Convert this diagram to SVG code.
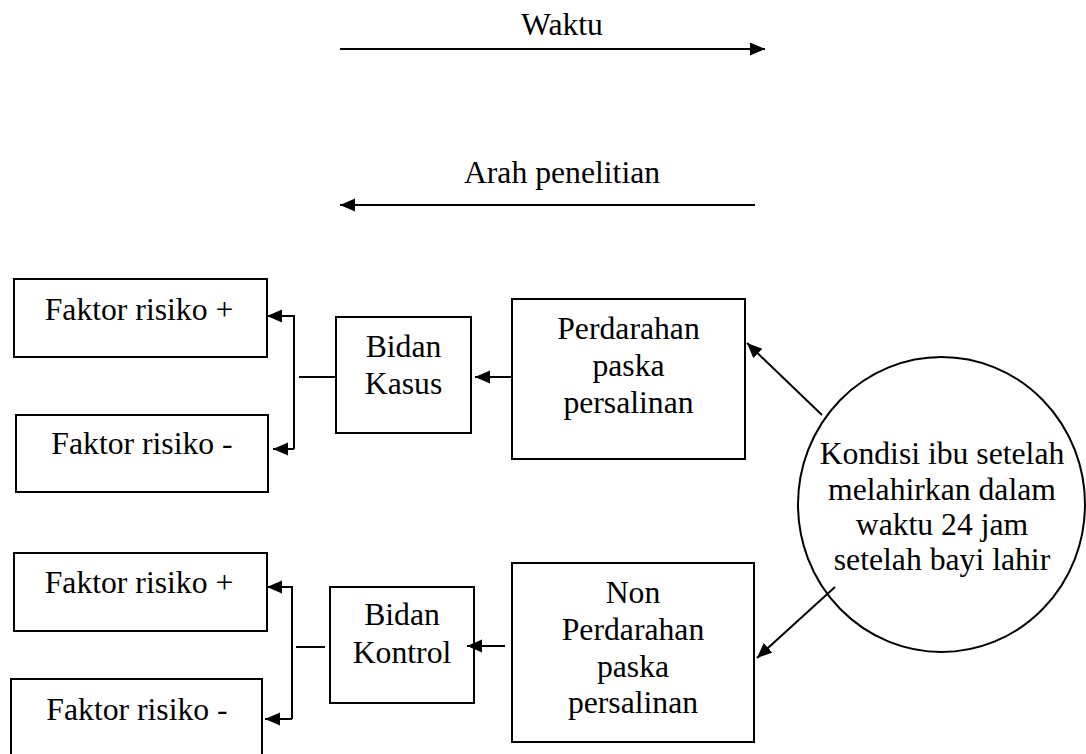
<svg xmlns="http://www.w3.org/2000/svg" width="1086" height="754" viewBox="0 0 1086 754">
<defs>
<style>
text{font-family:"Liberation Serif","Times New Roman",serif;font-size:31.7px;fill:#000;text-anchor:middle}
.box{fill:#fff;stroke:#000;stroke-width:2}
.ln{fill:none;stroke:#000;stroke-width:2}
.arr{fill:none;stroke:#000;stroke-width:2;marker-end:url(#ah)}
</style>
<marker id="ah" markerUnits="userSpaceOnUse" markerWidth="16" markerHeight="14" refX="15" refY="6.5" orient="auto" viewBox="0 0 16 14">
<path d="M0 0 L15 6.5 L0 13 Z" fill="#000"/>
</marker>
</defs>
<rect width="1086" height="754" fill="#fff"/>

<g id="waktu">
<text x="562" y="35">Waktu</text>
</g>
<g id="arah">
<text x="562" y="183">Arah penelitian</text>
</g>

<g id="faktor-plus-1"><rect class="box" x="14" y="279" width="253" height="78"/><text x="139" y="320">Faktor risiko +</text></g>
<g id="faktor-minus-1"><rect class="box" x="16" y="415" width="252" height="77"/><text x="142" y="454">Faktor risiko -</text></g>
<g id="bidan-kasus"><rect class="box" x="336" y="317" width="135" height="116"/><text x="403.5" y="357">Bidan</text><text x="403.5" y="394">Kasus</text></g>
<g id="perdarahan"><rect class="box" x="512" y="299" width="233" height="160"/><text x="628.5" y="339">Perdarahan</text><text x="628.5" y="376">paska</text><text x="628.5" y="413">persalinan</text></g>

<g id="faktor-plus-2"><rect class="box" x="14" y="553" width="253" height="78"/><text x="139" y="593">Faktor risiko +</text></g>
<g id="faktor-minus-2"><rect class="box" x="11" y="679" width="251" height="85"/><text x="137" y="720">Faktor risiko -</text></g>
<g id="bidan-kontrol"><rect class="box" x="330" y="587" width="144" height="116"/><text x="402" y="625">Bidan</text><text x="402" y="663">Kontrol</text></g>
<g id="non-perdarahan"><rect class="box" x="512" y="563" width="242" height="179"/><text x="633" y="603">Non</text><text x="633" y="640">Perdarahan</text><text x="633" y="677">paska</text><text x="633" y="713">persalinan</text></g>

<g id="kondisi"><ellipse cx="941.5" cy="504.5" rx="143.5" ry="147.5" fill="none" stroke="#000" stroke-width="2"/>
<text x="942" y="464">Kondisi ibu setelah</text><text x="942" y="500">melahirkan dalam</text><text x="942" y="535">waktu 24 jam</text><text x="942" y="570">setelah bayi lahir</text></g>

<g id="connectors">
<path class="arr" d="M340 49 H765"/>
<path class="arr" d="M755 205 H340"/>
<path class="arr" d="M822 415 L747 343"/>
<path class="arr" d="M835 587 L757 658"/>
<path class="arr" d="M512 377 H475"/>
<path class="ln" d="M299 377 H336"/>
<path class="arr" d="M294 449 V316 H267"/>
<path class="arr" d="M294 449 H273"/>
<path class="arr" d="M505 646 H467"/>
<path class="ln" d="M296 647 H325"/>
<path class="arr" d="M292 719 V587 H267"/>
<path class="arr" d="M292 719 H265"/>
</g>
</svg>
